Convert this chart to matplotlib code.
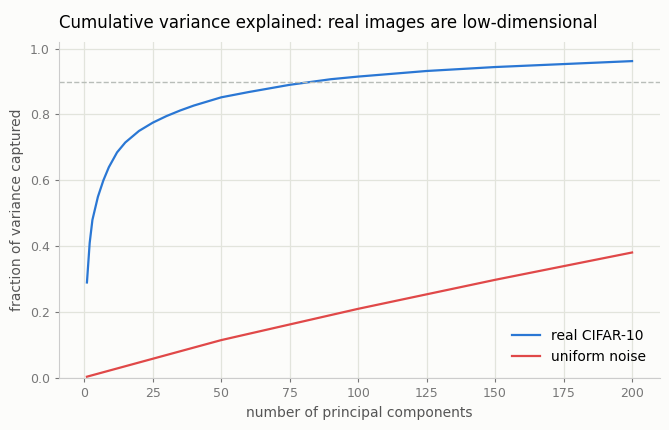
import matplotlib
matplotlib.use('Agg')
import matplotlib.pyplot as plt

# число компонент и доля объяснённой дисперсии
k_real = [1, 2, 3, 5, 7, 9, 12, 15, 20, 25, 30, 35, 40, 50, 60, 75, 90, 100, 125, 150, 175, 200]
var_real = [0.29, 0.41, 0.48, 0.55, 0.60, 0.64, 0.685, 0.715, 0.75, 0.775, 0.795, 0.812, 0.827,
            0.852, 0.868, 0.89, 0.907, 0.915, 0.932, 0.944, 0.953, 0.962]
k_noise = [1, 50, 100, 150, 200]
var_noise = [0.004, 0.115, 0.21, 0.298, 0.381]
threshold = 0.9

bg = '#fcfcfa'
fig = plt.figure(figsize=(6.69, 4.30), dpi=100, facecolor=bg)
ax = fig.add_axes([59/669, 52/430, 601/669, 336/430], facecolor=bg)

ax.plot(k_real, var_real, color='#2a77d4', linewidth=1.6, label='real CIFAR-10')
ax.plot(k_noise, var_noise, color='#e04848', linewidth=1.6, label='uniform noise')
ax.axhline(threshold, color='#b8bdb8', linestyle='--', linewidth=1)

ax.set_xlim(-9.2, 210.2)
ax.set_ylim(0, 1.02)
ax.set_xticks([0, 25, 50, 75, 100, 125, 150, 175, 200])
ax.set_yticks([0, 0.2, 0.4, 0.6, 0.8, 1.0])
ax.grid(True, color='#e2e4dc', linewidth=0.9)
ax.set_axisbelow(True)
for s in ['top', 'right']:
    ax.spines[s].set_visible(False)
for s in ['left', 'bottom']:
    ax.spines[s].set_color('#cccccc')
ax.tick_params(colors='#777777', labelsize=9, length=3)
ax.set_xlabel('number of principal components', fontsize=10, color='#555555')
ax.set_ylabel('fraction of variance captured', fontsize=10, color='#555555')
ax.set_title('Cumulative variance explained: real images are low-dimensional',
             loc='left', fontsize=12, pad=10, x=0.0)
ax.legend(loc='lower right', frameon=False, fontsize=10, borderaxespad=0.6)

fig.savefig('out.png', dpi=100, facecolor=bg)
